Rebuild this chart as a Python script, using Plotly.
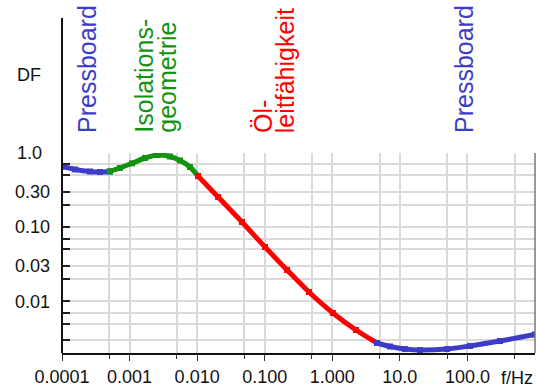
import numpy as np
import plotly.graph_objects as go

# Dissipation factor (DF) versus frequency, split by the dominant mechanism
blue_lo_f = [1.0e-4, 1.56e-4, 2.6e-4, 3.65e-4, 5.1e-4]
blue_lo_df = [0.657, 0.60, 0.563, 0.554, 0.563]

green_f = [5.1e-4, 7.2e-4, 1.09e-3, 1.69e-3, 2.63e-3, 3.97e-3, 5.58e-3, 7.84e-3, 1.03e-2]
green_df = [0.563, 0.627, 0.726, 0.856, 0.94, 0.897, 0.792, 0.647, 0.489]

red_f = [1.03e-2, 2.04e-2, 4.61e-2, 0.101, 0.214, 0.452, 1.02, 2.24, 4.59]
red_df = [0.489, 0.255, 0.117, 0.0539, 0.0264, 0.0133, 0.00693, 0.00409, 0.00273]

blue_hi_f = [4.59, 7.15, 11.9, 19.9, 49.9, 109, 303, 1000]
blue_hi_df = [0.00273, 0.00245, 0.00226, 0.00219, 0.00226, 0.00249, 0.0029, 0.00355]

x_tick_vals = [1e-4, 1e-3, 1e-2, 1e-1, 1, 10, 100]
x_tick_text = ["0.0001", "0.001", "0.010", "0.100", "1.000", "10.0", "100.0"]
x_minor_vals = [5e-4, 5e-3, 5e-2, 0.5, 5, 50, 500]

y_tick_vals = [0.3, 0.1, 0.03, 0.01]
y_tick_text = ["0.30", "0.10", "0.03", "0.01"]
y_minor_vals = [0.7, 0.5, 0.2, 0.07, 0.05, 0.02, 0.007, 0.005, 0.003]

BLUE = "#3c3cc8"
GREEN = "#129312"
RED = "#ff0000"
FONT = "Liberation Sans, Arial, sans-serif"
GRID = "#dadada"

fig = go.Figure()

segments = [
    (blue_lo_f, blue_lo_df, BLUE),
    (green_f, green_df, GREEN),
    (red_f, red_df, RED),
    (blue_hi_f, blue_hi_df, BLUE),
]
for f, df, col in segments:
    fig.add_trace(go.Scatter(
        x=f, y=df, mode="lines+markers",
        line=dict(color=col, width=5, shape="spline", smoothing=0.8),
        marker=dict(symbol="square", size=6, color=col, line=dict(width=0)),
        showlegend=False, hoverinfo="skip",
    ))

fig.update_xaxes(
    type="log", range=[-4, 3],
    tickmode="array", tickvals=x_tick_vals, ticktext=x_tick_text,
    tickfont=dict(family=FONT, size=18, color="#111111"),
    ticks="outside", ticklen=6, tickwidth=1, tickcolor="#333333",
    ticklabelstandoff=1,
    showgrid=True, gridcolor=GRID, gridwidth=1.5,
    showline=True, linecolor="#111111", linewidth=1.5,
    zeroline=False,
    minor=dict(tickmode="array", tickvals=x_minor_vals, ticks="outside",
               ticklen=4, tickcolor="#333333", showgrid=True,
               gridcolor=GRID, gridwidth=1.5),
)
fig.update_yaxes(
    type="log", range=[np.log10(0.002), 0],
    tickmode="array", tickvals=y_tick_vals, ticktext=y_tick_text,
    tickfont=dict(family=FONT, size=18, color="#111111"),
    ticks="inside", ticklen=8, tickwidth=1.5, tickcolor="#222222",
    ticklabelstandoff=11,
    showgrid=True, gridcolor=GRID, gridwidth=1.5,
    showline=False, zeroline=False,
    minor=dict(tickmode="array", tickvals=y_minor_vals, ticks="inside",
               ticklen=8, tickwidth=1.5, tickcolor="#222222", showgrid=True,
               gridcolor=GRID, gridwidth=1.5),
)

# Left axis line running up through the label area, and the right border
fig.add_shape(type="line", xref="paper", yref="paper", x0=0, x1=0,
              y0=0, y1=1.675, line=dict(color="#111111", width=2))
fig.add_shape(type="line", xref="paper", yref="paper", x0=1, x1=1,
              y0=0, y1=1, line=dict(color="#777777", width=1.5))

annotations = [
    dict(text="1.0", x=-0.0677, y=1.0, xanchor="center", yanchor="middle",
         font=dict(size=18)),
    dict(text="DF", x=-0.0698, y=1.39, xanchor="center", yanchor="middle",
         font=dict(size=18)),
    dict(text="f/Hz", x=1.0, y=-0.125, xanchor="right", yanchor="middle",
         font=dict(size=18)),
]
vertical_labels = [
    ("Pressboard", 0.0529, BLUE),
    ("Isolations-", 0.1727, GREEN),
    ("geometrie", 0.2203, GREEN),
    ("Öl-", 0.4239, RED),
    ("leitfähigkeit", 0.4708, RED),
    ("Pressboard", 0.8499, BLUE),
]
for text, xp, col in vertical_labels:
    annotations.append(dict(text=text, x=xp, y=1.09, xanchor="center",
                            yanchor="bottom", textangle=-90,
                            font=dict(size=25, color=col)))
for a in annotations:
    a.setdefault("font", {})
    a["font"].setdefault("color", "#111111")
    a["font"]["family"] = FONT
    fig.add_annotation(xref="paper", yref="paper", showarrow=False, **a)

fig.update_layout(
    width=536, height=390,
    margin=dict(l=62, r=1, t=153, b=37, pad=0),
    plot_bgcolor="white", paper_bgcolor="white",
    font=dict(family=FONT, color="#111111"),
)

fig.write_html("out.html")
